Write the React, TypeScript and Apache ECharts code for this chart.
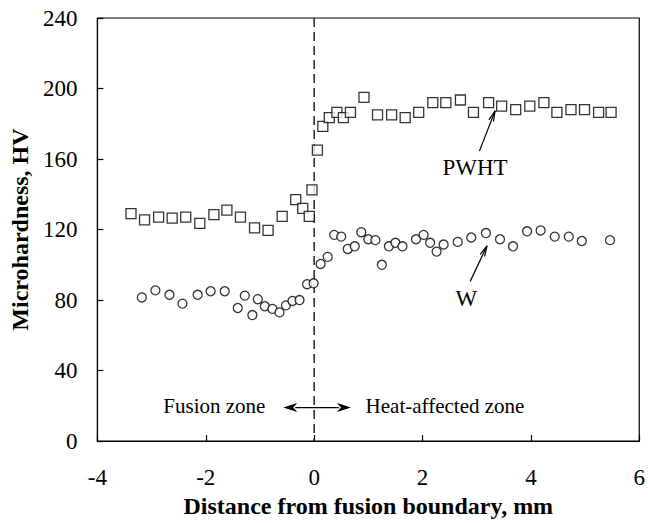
import React, { useEffect, useRef } from "react";
import * as echarts from "echarts";

const xTicks = { min: -4, max: 6, interval: 2 };
const yTicks = { min: 0, max: 240, interval: 40 };

const pwhtX = [-3.38, -3.13, -2.87, -2.62, -2.37, -2.11, -1.85, -1.61, -1.36, -1.1, -0.85, -0.59, -0.34, -0.21, -0.09, -0.04, 0.06, 0.16, 0.28, 0.42, 0.54, 0.67, 0.92, 1.17, 1.43, 1.68, 1.93, 2.19, 2.43, 2.7, 2.94, 3.22, 3.46, 3.72, 3.98, 4.24, 4.48, 4.74, 4.99, 5.25, 5.48];
const pwhtY = [129, 125.5, 127, 126.5, 127, 123.5, 128.5, 131, 127, 121, 119.5, 127.5, 137, 132, 127.5, 142.5, 165, 178.5, 183.5, 186.5, 183.5, 186.5, 195, 185, 185, 183.5, 186.5, 192, 192, 193.5, 186.5, 192, 190, 188, 190, 192, 186.5, 188, 188, 186.5, 186.5];

const wX = [-3.18, -2.93, -2.67, -2.43, -2.15, -1.91, -1.65, -1.41, -1.28, -1.14, -1.04, -0.91, -0.77, -0.64, -0.52, -0.4, -0.27, -0.13, -0.01, 0.12, 0.25, 0.37, 0.5, 0.62, 0.75, 0.87, 1.0, 1.13, 1.25, 1.38, 1.5, 1.63, 1.88, 2.02, 2.14, 2.26, 2.39, 2.65, 2.9, 3.17, 3.43, 3.67, 3.93, 4.18, 4.44, 4.7, 4.94, 5.46];
const wY = [81.5, 85.5, 83, 78, 83, 85, 85, 75.5, 82.5, 71.5, 80.5, 76.5, 75, 73, 77, 79.5, 80, 89, 89.5, 100.5, 104.5, 117, 116, 109, 110.5, 118.5, 114.5, 114, 100, 110.5, 112.5, 110.5, 114.5, 117, 112.5, 107.5, 111.5, 113, 115.5, 118, 114.5, 110.5, 119, 119.5, 116, 116, 113.5, 114];

const labels = {
  xName: "Distance from fusion boundary, mm",
  yName: "Microhardness, HV",
  pwht: "PWHT",
  w: "W",
  fusion: "Fusion zone",
  haz: "Heat-affected zone",
};

// annotation anchors in data coordinates
const boundaryX = 0;
const pwhtArrow = { from: [3.05, 164.5], to: [3.34, 187.4], text: [2.97, 155] };
const wArrow = { from: [2.88, 90.6], to: [3.19, 110.8], text: [2.81, 81] };
const zoneArrow = { y: 19, left: -0.57, right: 0.68, fusionEnd: -0.9, hazStart: 0.95 };

const FONT = "Liberation Serif";

function openHead(tip: number[], from: number[], len: number, ang: number) {
  const dx = from[0] - tip[0];
  const dy = from[1] - tip[1];
  const L = Math.hypot(dx, dy);
  const ux = dx / L, uy = dy / L;
  const c = Math.cos(ang), s = Math.sin(ang);
  const a = [tip[0] + len * (ux * c - uy * s), tip[1] + len * (ux * s + uy * c)];
  const b = [tip[0] + len * (ux * c + uy * s), tip[1] + len * (-ux * s + uy * c)];
  return [a, b];
}

export default function App() {
  const ref = useRef<HTMLDivElement>(null);
  useEffect(() => {
    document.body.style.margin = "0";
    const chart = echarts.init(ref.current!, null, { renderer: "svg" });
    const axisLabel = { color: "#000", fontFamily: FONT, fontSize: 23 };
    chart.setOption({
      animation: false,
      backgroundColor: "#fff",
      grid: { left: 96, right: 7, top: 18, bottom: 76, show: true, borderColor: "#000", borderWidth: 1.2 },
      xAxis: {
        type: "value",
        ...xTicks,
        axisLine: { show: true, onZero: false, lineStyle: { color: "#000", width: 1.2 } },
        axisTick: { show: true, inside: true, length: 6, lineStyle: { color: "#000", width: 1.2 } },
        splitLine: { show: false },
        axisLabel: { ...axisLabel, margin: 25 },
        name: labels.xName,
        nameLocation: "middle",
        nameGap: 50,
        nameTextStyle: { color: "#000", fontFamily: FONT, fontSize: 24, fontWeight: "bold" },
      },
      yAxis: {
        type: "value",
        ...yTicks,
        axisLine: { show: true, onZero: false, lineStyle: { color: "#000", width: 1.2 } },
        axisTick: { show: true, inside: true, length: 6, lineStyle: { color: "#000", width: 1.2 } },
        splitLine: { show: false },
        axisLabel: { ...axisLabel, margin: 20 },
        name: labels.yName,
        nameLocation: "middle",
        nameGap: 61,
        nameRotate: 90,
        nameTextStyle: { color: "#000", fontFamily: FONT, fontSize: 24, fontWeight: "bold" },
      },
      series: [
        {
          name: "PWHT",
          type: "scatter",
          symbol: "rect",
          symbolSize: 10,
          itemStyle: { color: "#fff", borderColor: "#000", borderWidth: 1.3 },
          data: pwhtX.map((x, i) => [x, pwhtY[i]]),
          z: 3,
        },
        {
          name: "W",
          type: "scatter",
          symbol: "circle",
          symbolSize: 9,
          itemStyle: { color: "#fff", borderColor: "#000", borderWidth: 1.3 },
          data: wX.map((x, i) => [x, wY[i]]),
          z: 3,
        },
      ],
    });

    const px = (p: number[]) => chart.convertToPixel({ gridIndex: 0 }, p) as number[];
    const line = (a: number[], b: number[], extra: any = {}) => ({
      type: "line",
      shape: { x1: a[0], y1: a[1], x2: b[0], y2: b[1] },
      style: { stroke: "#000", lineWidth: 1.2, ...extra },
      z: 10,
    });
    const arrowEls = (arrow: { from: number[]; to: number[] }) => {
      const f = px(arrow.from), t = px(arrow.to);
      const [a, b] = openHead(t, f, 11, 0.22);
      return [line(f, t), line(t, a), line(t, b)];
    };
    const textEl = (p: number[], text: string, align: string, size: number) => ({
      type: "text",
      x: p[0],
      y: p[1],
      z: 10,
      style: { text, fill: "#000", font: `${size}px "${FONT}"`, align, verticalAlign: "middle" },
    });
    const ya = px([0, zoneArrow.y]);
    const L = px([zoneArrow.left, zoneArrow.y]);
    const R = px([zoneArrow.right, zoneArrow.y]);
    const hl = 14, hw = 4.5;
    const dTop = px([boundaryX, yTicks.max]);
    const dBot = px([boundaryX, yTicks.min]);
    chart.setOption({
      graphic: [
        {
          type: "line",
          z: 2,
          shape: { x1: dTop[0], y1: dTop[1], x2: dBot[0], y2: dBot[1] },
          style: { stroke: "#000", lineWidth: 1.3, lineDash: [9, 5] },
        },
        ...arrowEls(pwhtArrow),
        ...arrowEls(wArrow),
        textEl(px(pwhtArrow.text), labels.pwht, "center", 23),
        textEl(px(wArrow.text), labels.w, "center", 23),
        line([L[0] + hl - 2, ya[1]], [R[0] - hl + 2, ya[1]]),
        {
          type: "polygon",
          z: 10,
          shape: { points: [[L[0], ya[1]], [L[0] + hl, ya[1] - hw], [L[0] + hl - 4, ya[1]], [L[0] + hl, ya[1] + hw]] },
          style: { fill: "#000" },
        },
        {
          type: "polygon",
          z: 10,
          shape: { points: [[R[0], ya[1]], [R[0] - hl, ya[1] - hw], [R[0] - hl + 4, ya[1]], [R[0] - hl, ya[1] + hw]] },
          style: { fill: "#000" },
        },
        textEl(px([zoneArrow.fusionEnd, zoneArrow.y + 1]), labels.fusion, "right", 21),
        textEl(px([zoneArrow.hazStart, zoneArrow.y + 1]), labels.haz, "left", 21),
      ],
    });
    return () => chart.dispose();
  }, []);
  return <div ref={ref} style={{ width: 648, height: 523 }} />;
}
